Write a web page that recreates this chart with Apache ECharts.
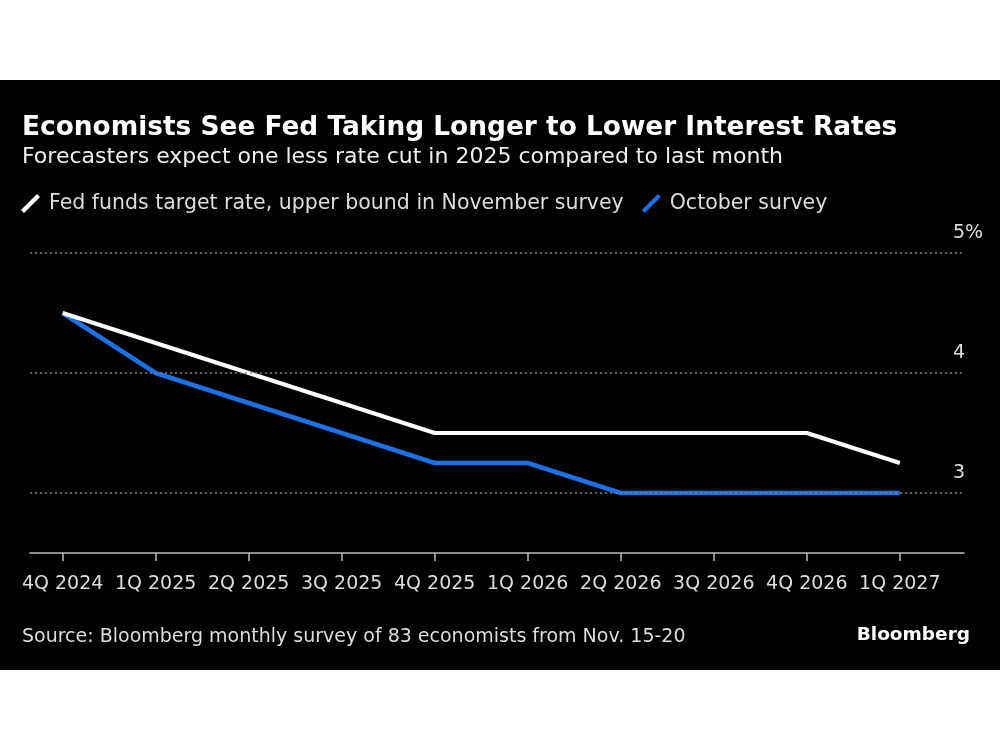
<!DOCTYPE html>
<html>
<head>
<meta charset="utf-8">
<script src="https://cdn.jsdelivr.net/npm/echarts@6/dist/echarts.min.js"></script>
<style>
  html, body { margin: 0; padding: 0; background: #ffffff; }
  #wrap { position: relative; width: 1000px; height: 750px; background: #ffffff; }
  #chart { position: absolute; left: 0; top: 80px; width: 1000px; height: 590px; background: #000000; }
</style>
</head>
<body>
<div id="wrap"><div id="chart"></div></div>
<script>
const quarters = ['4Q 2024','1Q 2025','2Q 2025','3Q 2025','4Q 2025','1Q 2026','2Q 2026','3Q 2026','4Q 2026','1Q 2027'];
const november = [4.5, 4.25, 4.0, 3.75, 3.5, 3.5, 3.5, 3.5, 3.5, 3.25];
const october = [4.5, 4.0, 3.75, 3.5, 3.25, 3.25, 3.0, 3.0, 3.0, 3.0];
const yTicks = [3, 4, 5];
const seriesNames = ['Fed funds target rate, upper bound in November survey', 'October survey'];

const FONT = 'DejaVu Sans';
const chart = echarts.init(document.getElementById('chart'), null, { renderer: 'canvas' });
const idx = quarters.map((q, i) => i);
const slash = 'path://M0,16 L16,0 L19,3 L3,19 Z';

const option = {
  backgroundColor: '#000000',
  animation: false,
  textStyle: { fontFamily: FONT },
  grid: { left: 30, right: 36, top: 173, bottom: 117, containLabel: false },
  legend: {
    left: 16, top: 108,
    itemWidth: 19, itemHeight: 19, itemGap: 18,
    textStyle: { color: '#dddddd', fontSize: 20.5, fontFamily: FONT, padding: [0, 0, 0, 4] },
    itemStyle: { borderWidth: 0 },
    data: [
      { name: seriesNames[0], icon: slash, itemStyle: { color: '#ffffff' } },
      { name: seriesNames[1], icon: slash, itemStyle: { color: '#1f6fe5' } }
    ]
  },
  xAxis: {
    type: 'value',
    min: -0.351, max: 9.69,
    axisLine: { show: true, lineStyle: { color: '#bbbbbb', width: 1.5 } },
    axisTick: { show: true, length: 8, customValues: idx, lineStyle: { color: '#bbbbbb', width: 1.5 } },
    axisLabel: {
      customValues: idx, color: '#dddddd', fontSize: 19, fontFamily: FONT, margin: 22,
      formatter: v => quarters[Math.round(v)]
    },
    splitLine: { show: false }
  },
  yAxis: {
    type: 'value', position: 'right',
    min: 2.5, max: 5,
    axisLine: { show: false }, axisTick: { show: false },
    splitLine: { show: false },
    axisLabel: {
      customValues: yTicks, color: '#dddddd', fontSize: 19, fontFamily: FONT,
      margin: -11, align: 'left', verticalAlign: 'bottom', padding: [0, 0, 10, 0],
      formatter: v => v === 5 ? '5%' : String(v)
    }
  },
  series: [
    {
      name: 'grid', type: 'line', data: [], z: 1, silent: true,
      markLine: {
        silent: true, symbol: 'none', animation: false,
        label: { show: false },
        lineStyle: { color: '#808080', type: [2, 3], width: 1.5 },
        data: yTicks.map(v => ({ yAxis: v }))
      }
    },
    {
      name: seriesNames[1], type: 'line', z: 3,
      data: october.map((v, i) => [i, v]),
      symbol: 'none',
      lineStyle: { color: '#1f6fe5', width: 4.5 },
      itemStyle: { color: '#1f6fe5' }
    },
    {
      name: seriesNames[0], type: 'line', z: 4,
      data: november.map((v, i) => [i, v]),
      symbol: 'none',
      lineStyle: { color: '#ffffff', width: 4 },
      itemStyle: { color: '#ffffff' }
    }
  ],
  graphic: [
    { type: 'text', left: 22, top: 35, style: { text: 'Economists See Fed Taking Longer to Lower Interest Rates', fill: '#ffffff', font: 'bold 26.4px "DejaVu Sans"' } },
    { type: 'text', left: 22, top: 66, style: { text: 'Forecasters expect one less rate cut in 2025 compared to last month', fill: '#eeeeee', font: '22px "DejaVu Sans"' } },
    { type: 'text', left: 22, top: 548, style: { text: 'Source: Bloomberg monthly survey of 83 economists from Nov. 15-20', fill: '#dddddd', font: '19px "DejaVu Sans"' } },
    { type: 'text', right: 30, top: 546, style: { text: 'Bloomberg', fill: '#ffffff', font: 'bold 18.5px "DejaVu Sans"' } }
  ]
};
chart.setOption(option);
</script>
</body>
</html>
